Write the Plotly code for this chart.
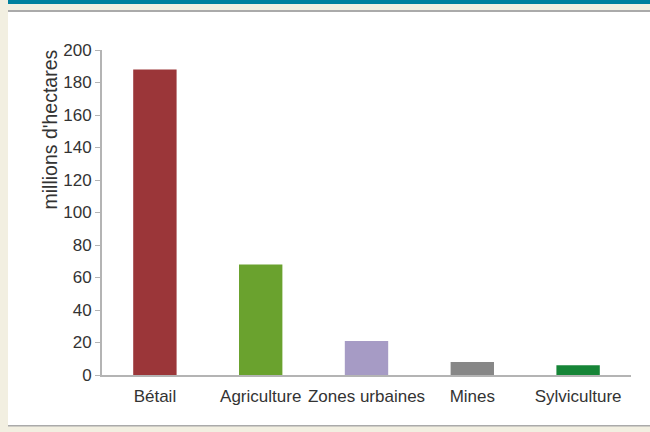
import plotly.graph_objects as go

categories = ["Bétail", "Agriculture", "Zones urbaines", "Mines", "Sylviculture"]
values = [188, 68, 21, 8, 6]
colors = ["#9b3639", "#6aa22e", "#a69bc5", "#878787", "#168537"]
y_ticks = [0, 20, 40, 60, 80, 100, 120, 140, 160, 180, 200]

W, H = 650, 432
L, R, T, B = 102, 19, 50, 57
PW, PH = W - L - R, H - T - B

def px(x):
    return (x - L) / PW

def py(y):
    return (H - B - y) / PH

FONT = "Liberation Sans"
TXT = "#333333"
AX = "#b4b4b4"
BG = "#f2efe1"

fig = go.Figure(go.Bar(
    x=categories, y=values, marker=dict(color=colors, line=dict(width=0)),
    width=0.41, hoverinfo="skip"))

shapes = [
    dict(type="rect", xref="paper", yref="paper", x0=px(8), x1=px(650), y0=py(12), y1=py(425),
         fillcolor="white", line=dict(width=0), layer="below"),
    dict(type="rect", xref="paper", yref="paper", x0=px(8), x1=px(650), y0=py(0), y1=py(4),
         fillcolor="#00809e", line=dict(width=0), layer="below"),
    dict(type="rect", xref="paper", yref="paper", x0=px(8), x1=px(650), y0=py(10), y1=py(12),
         fillcolor="#aaaaaa", line=dict(width=0), layer="below"),
    dict(type="rect", xref="paper", yref="paper", x0=px(8), x1=px(650), y0=py(425), y1=py(426.5),
         fillcolor="#aaaaaa", line=dict(width=0), layer="below"),
]

fig.update_layout(
    width=W, height=H,
    margin=dict(l=L, r=R, t=T, b=B, pad=0),
    paper_bgcolor=BG, plot_bgcolor="rgba(0,0,0,0)",
    showlegend=False,
    shapes=shapes,
    font=dict(family=FONT, size=17, color=TXT),
    xaxis=dict(showline=True, linecolor=AX, linewidth=2, ticks="", showgrid=False,
               tickfont=dict(family=FONT, size=17, color=TXT), ticklabelstandoff=5),
    yaxis=dict(range=[0, 200], tickvals=y_ticks, showline=True, linecolor=AX, linewidth=2,
               ticks="outside", ticklen=5, tickcolor=AX, tickwidth=1, showgrid=False,
               zeroline=False, tickfont=dict(family=FONT, size=17, color=TXT)),
    annotations=[dict(text="millions d'hectares", textangle=-90, xref="paper", yref="paper",
                      x=px(49), y=py(47.5), xanchor="center", yanchor="top", showarrow=False,
                      font=dict(family=FONT, size=19.5, color=TXT))],
)

fig.write_html(
    "out.html",
    config={"displayModeBar": False},
    post_script="document.body.style.margin='0';document.body.style.padding='0';"
                "document.body.style.background='" + BG + "';"
                "document.body.style.overflow='hidden';",
)
